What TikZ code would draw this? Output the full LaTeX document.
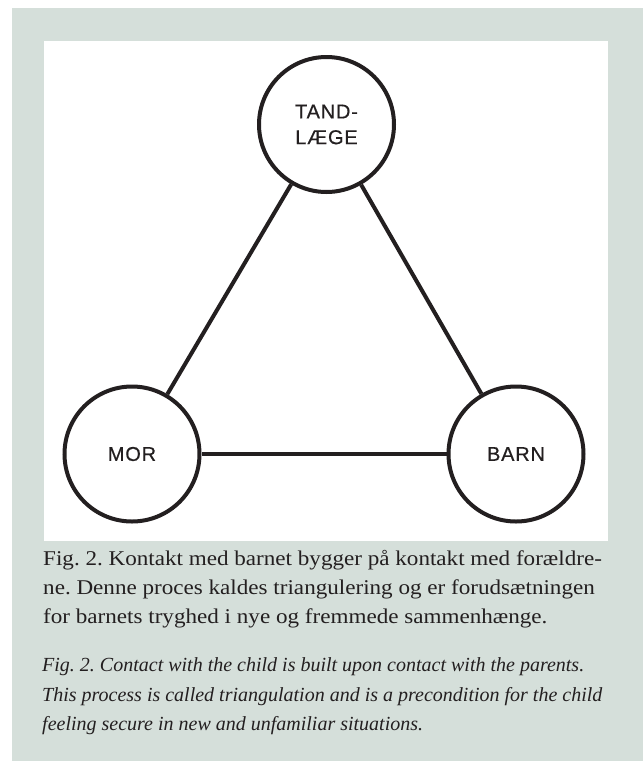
\documentclass[tikz,border=0pt]{standalone}
\usepackage{fontspec}
\setmainfont{Liberation Serif}
\setsansfont{Liberation Sans}
\newfontfamily\danfont[FakeStretch=1.1]{Liberation Serif}
\newfontfamily\labelfont[FakeBold=0.5,LetterSpace=4]{Liberation Sans}
\definecolor{bggray}{HTML}{D5DFDA}
\definecolor{ink}{HTML}{231F20}
\tikzset{
  person/.style={circle, draw=ink, line width=4pt, fill=white, minimum size=135pt, inner sep=0pt,
    font=\labelfont\fontsize{20}{25.7}\selectfont, text=ink, align=center},
  link/.style={draw=ink, line width=4pt},
  capline/.style={anchor=base west, inner sep=0pt, text=ink, font=\danfont\fontsize{21}{29}\selectfont},
  capital/.style={anchor=base west, inner sep=0pt, text=ink, font=\itshape\fontsize{20}{29}\selectfont}
}
\frenchspacing
\begin{document}
\frenchspacing
\begin{tikzpicture}[x=1pt,y=-1pt]
\useasboundingbox (0,0) rectangle (643,761);
\fill[white] (0,0) rectangle (643,761);
\fill[bggray] (12,8) rectangle (643,761);
\fill[white] (44,41) rectangle (608,541);
\node[person] (tand) at (326.5,124.5) {TAND-\\LÆGE};
\node[person] (mor) at (132,454) {MOR};
\node[person] (barn) at (516,454) {BARN};
\draw[link] (tand) -- (mor);
\draw[link] (tand) -- (barn);
\draw[link] (mor) -- (barn);
\node[capline] (d1) at (43,565) {Fig. 2. Kontakt med barnet bygger på kontakt med forældre-};
\node[capline] (d2) at (43,594) {ne. Denne proces kaldes triangulering og er forudsætningen};
\node[capline] (d3) at (43,623) {for barnets tryghed i nye og fremmede sammenhænge.};
\node[capital] (e1) at (42,671.5) {Fig. 2. Contact with the child is built upon contact with the parents.};
\node[capital] (e2) at (42,701) {This process is called triangulation and is a precondition for the child};
\node[capital] (e3) at (42,730) {feeling secure in new and unfamiliar situations.};
\end{tikzpicture}
\end{document}
